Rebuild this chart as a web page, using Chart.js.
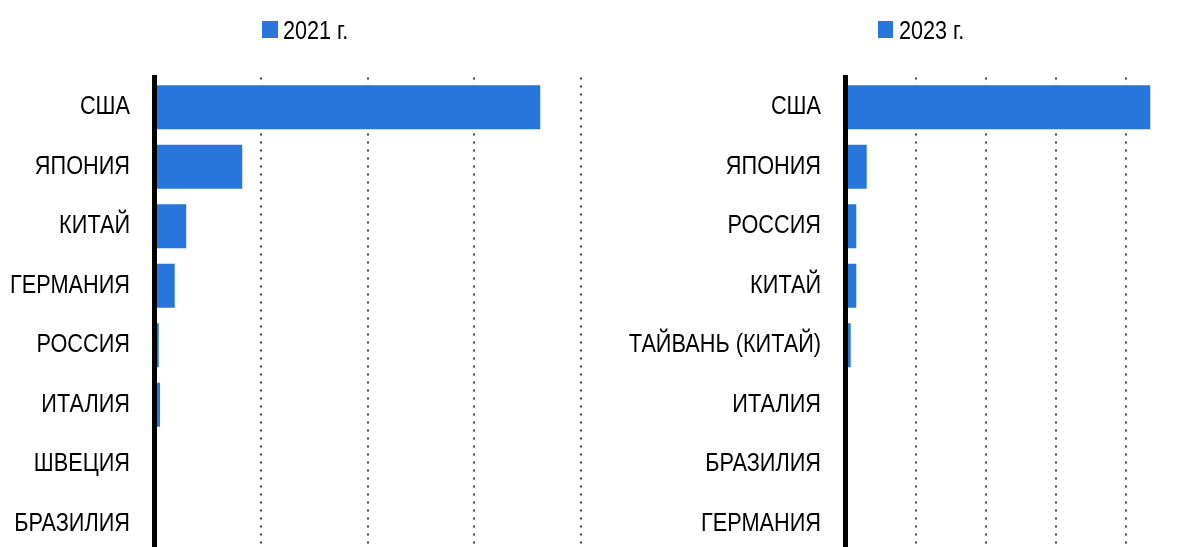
<!DOCTYPE html>
<html>
<head>
<meta charset="utf-8">
<script src="https://cdn.jsdelivr.net/npm/chart.js@4.4.1/dist/chart.umd.min.js"></script>
<style>
  html, body { margin: 0; padding: 0; background: #ffffff; width: 1187px; height: 547px; overflow: hidden; position: relative; }
  canvas { position: absolute; top: 0; }
  .lg-box { position: absolute; background: #2876dc; }
  .lg-text { position: absolute; font: 26px 'Liberation Sans', Arial, sans-serif; line-height: 26px; color: #000; white-space: nowrap; transform: scaleX(0.83); transform-origin: 0 0; }
</style>
</head>
<body>
<canvas id="c1" width="600" height="560" style="left:0px"></canvas>
<canvas id="c2" width="600" height="560" style="left:600px"></canvas>
<div class="lg-box" style="left:262px;top:21px;width:16px;height:17px"></div>
<div class="lg-text" id="lg1" style="left:283px;top:17px"></div>
<div class="lg-box" style="left:878px;top:21px;width:15px;height:17px"></div>
<div class="lg-text" id="lg2" style="left:899px;top:17px"></div>
<script>
// ---- data ----
const seriesLabel2021 = '2021 г.';
const categories2021 = ['США', 'ЯПОНИЯ', 'КИТАЙ', 'ГЕРМАНИЯ', 'РОССИЯ', 'ИТАЛИЯ', 'ШВЕЦИЯ', 'БРАЗИЛИЯ'];
const values2021 = [1811, 412, 149, 95, 20, 26, 4, 3];
const ticks2021 = [0, 500, 1000, 1500, 2000];

const seriesLabel2023 = '2023 г.';
const categories2023 = ['США', 'ЯПОНИЯ', 'РОССИЯ', 'КИТАЙ', 'ТАЙВАНЬ (КИТАЙ)', 'ИТАЛИЯ', 'БРАЗИЛИЯ', 'ГЕРМАНИЯ'];
const values2023 = [4354, 303, 154, 154, 74, 4, 3, 2];
const ticks2023 = [0, 1000, 2000, 3000, 4000, 5000];

// ---- styles ----
const BAR_COLOR = '#2876dc';
const FONT_FAMILY = "'Liberation Sans', Arial, sans-serif";
const FONT_SIZE = 26;
const NARROW = 0.835;
const LABEL_GAP = 24.5;

document.getElementById('lg1').textContent = seriesLabel2021;
document.getElementById('lg2').textContent = seriesLabel2023;

// Draws the category labels of the y scale in a condensed (narrow) face.
const narrowLabels = {
  id: 'narrowLabels',
  afterDraw(chart) {
    const ys = chart.scales.y;
    const ctx = chart.ctx;
    ctx.save();
    ctx.font = FONT_SIZE + 'px ' + FONT_FAMILY;
    ctx.fillStyle = '#000000';
    ctx.textAlign = 'right';
    ctx.textBaseline = 'middle';
    ys.ticks.forEach((t, i) => {
      const y = ys.getPixelForTick(i);
      const x = ys.right - LABEL_GAP;
      ctx.save();
      ctx.translate(x, y);
      ctx.scale(NARROW, 1);
      ctx.fillText(ys.getLabelForValue(t.value), 0, 0);
      ctx.restore();
    });
    ctx.restore();
  }
};

function makeChart(id, label, cats, vals, tickVals, axisWidth, padRight) {
  const step = tickVals[1] - tickVals[0];
  return new Chart(document.getElementById(id), {
    type: 'bar',
    data: {
      labels: cats,
      datasets: [{
        label: label,
        data: vals,
        backgroundColor: BAR_COLOR,
        borderWidth: 0,
        barPercentage: 0.74,
        categoryPercentage: 1.0
      }]
    },
    plugins: [narrowLabels],
    options: {
      indexAxis: 'y',
      responsive: false,
      animation: false,
      layout: { padding: { top: 77.5, bottom: 6.5, left: 0, right: padRight } },
      plugins: {
        legend: { display: false },
        tooltip: { enabled: false }
      },
      scales: {
        x: {
          min: tickVals[0],
          max: tickVals[tickVals.length - 1],
          ticks: { display: false, stepSize: step },
          grid: { display: true, drawTicks: false, color: '#404040', lineWidth: 2 },
          border: { display: false, dash: [2, 6] },
          afterFit: (scale) => { scale.height = 0; }
        },
        y: {
          ticks: { display: false },
          grid: { display: false, drawTicks: false },
          border: { display: true, color: '#000000', width: 5, z: 1 },
          afterFit: (scale) => { scale.width = axisWidth; }
        }
      }
    }
  });
}

makeChart('c1', seriesLabel2021, categories2021, values2021, ticks2021, 154.5, 19.5);
makeChart('c2', seriesLabel2023, categories2023, values2023, ticks2023, 245.5, 4.5);
</script>
</body>
</html>
